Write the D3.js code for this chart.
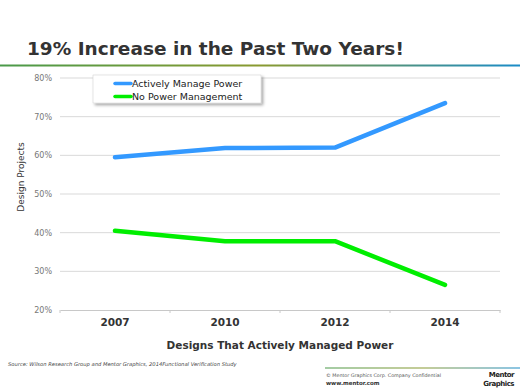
<!DOCTYPE html>
<html>
<head>
<meta charset="utf-8">
<script src="https://cdn.jsdelivr.net/npm/d3@7"></script>
<style>
  body { margin: 0; background: #fff; }
  svg { display: block; font-family: "DejaVu Sans", Verdana, sans-serif; }
</style>
</head>
<body>
<div id="chart"></div>
<script>
// chart values
var years = ["2007", "2010", "2012", "2014"];
var activelyManage = [59.5, 61.9, 62.0, 73.5];
var noManagement = [40.5, 37.8, 37.8, 26.5];
var yTicks = [20, 30, 40, 50, 60, 70, 80];
var seriesNames = ["Actively Manage Power", "No Power Management"];
var seriesColors = ["#3399ff", "#00ee00"];

var W = 520, H = 390;
var margin = {top: 78, right: 20, bottom: 80, left: 60};
var width = W - margin.left - margin.right,
    height = H - margin.top - margin.bottom;

var svg = d3.select("#chart").append("svg")
    .attr("width", W)
    .attr("height", H);

var defs = svg.append("defs");
var grad = defs.append("linearGradient").attr("id", "rule");
grad.append("stop").attr("offset", "0%").attr("stop-color", "#4a9a4a");
grad.append("stop").attr("offset", "50%").attr("stop-color", "#8a9a30");
grad.append("stop").attr("offset", "100%").attr("stop-color", "#1a8cc8");

var shadow = defs.append("filter").attr("id", "shadow")
    .attr("x", "-10%").attr("y", "-20%").attr("width", "130%").attr("height", "160%");
shadow.append("feDropShadow").attr("dx", 2).attr("dy", 2).attr("stdDeviation", 1.5)
    .attr("flood-color", "#000").attr("flood-opacity", 0.35);

// title
svg.append("text")
    .attr("x", 27).attr("y", 55)
    .style("font-size", "18.5px")
    .style("font-weight", "bold")
    .style("fill", "#333")
    .text("19% Increase in the Past Two Years!");

svg.append("rect")
    .attr("x", 0).attr("y", 64.5).attr("width", W).attr("height", 2)
    .style("fill", "url(#rule)");

var g = svg.append("g")
    .attr("transform", "translate(" + margin.left + "," + margin.top + ")");

// scales
var x = d3.scaleBand().domain(years).range([0, width]);
var y = d3.scaleLinear().domain([20, 80]).range([height, 0]);

// grid lines
g.selectAll(".grid")
    .data(yTicks.slice(1))
    .enter().append("line")
    .attr("x1", 0).attr("x2", width)
    .attr("y1", function(d) { return y(d); })
    .attr("y2", function(d) { return y(d); })
    .style("stroke", "#d9d9d9")
    .style("stroke-width", 1);

// y axis
var yAxis = g.append("g")
    .call(d3.axisLeft(y).tickValues(yTicks).tickFormat(function(d) { return d + "%"; }).tickSize(0).tickPadding(8));
yAxis.select(".domain").remove();
yAxis.selectAll("text")
    .style("font-family", "DejaVu Sans, Verdana, sans-serif")
    .style("font-size", "8px")
    .style("fill", "#777");

// x axis
var xAxis = g.append("g")
    .attr("transform", "translate(0," + height + ")")
    .call(d3.axisBottom(x).tickSizeInner(0).tickSizeOuter(0).tickPadding(9));
xAxis.select(".domain").style("stroke", "#c8c8c8");
xAxis.selectAll("text")
    .style("font-family", "DejaVu Sans, Verdana, sans-serif")
    .style("font-size", "10.5px")
    .style("font-weight", "bold")
    .style("fill", "#333");

// category boundary ticks
var bounds = years.map(function(d) { return x(d); }).concat([width]);
g.selectAll(".btick")
    .data(bounds)
    .enter().append("line")
    .attr("x1", function(d) { return d; })
    .attr("x2", function(d) { return d; })
    .attr("y1", height).attr("y2", height + 3)
    .style("stroke", "#c8c8c8");

// lines
var line = d3.line()
    .x(function(d, i) { return x(years[i]) + x.bandwidth() / 2; })
    .y(function(d) { return y(d); });

[activelyManage, noManagement].forEach(function(s, i) {
    g.append("path")
        .attr("d", line(s))
        .style("fill", "none")
        .style("stroke", seriesColors[i])
        .style("stroke-width", 4.5)
        .style("stroke-linecap", "round")
        .style("stroke-linejoin", "round");
});

// axis titles
svg.append("text")
    .attr("transform", "translate(24," + (margin.top + height / 2 - 17) + ") rotate(-90)")
    .style("text-anchor", "middle")
    .style("font-size", "9px")
    .style("fill", "#333")
    .text("Design Projects");

svg.append("text")
    .attr("x", margin.left + width / 2).attr("y", 349)
    .style("text-anchor", "middle")
    .style("font-size", "10.5px")
    .style("font-weight", "bold")
    .style("fill", "#333")
    .text("Designs That Actively Managed Power");

// legend
var legend = svg.append("g").attr("transform", "translate(93,75)");
legend.append("rect")
    .attr("width", 168).attr("height", 28)
    .style("fill", "#fff")
    .style("stroke", "#ccc")
    .style("stroke-width", 0.5)
    .attr("filter", "url(#shadow)");
seriesNames.forEach(function(name, i) {
    var ly = 8.5 + i * 13;
    legend.append("line")
        .attr("x1", 22).attr("x2", 38)
        .attr("y1", ly).attr("y2", ly)
        .style("stroke", seriesColors[i])
        .style("stroke-width", 3.5)
        .style("stroke-linecap", "round");
    legend.append("text")
        .attr("x", 39).attr("y", ly + 3.5)
        .style("font-size", "9.5px")
        .style("fill", "#222")
        .text(name);
});

// footer
svg.append("text")
    .attr("x", 8).attr("y", 366)
    .style("font-size", "5.2px")
    .style("font-style", "italic")
    .style("fill", "#444")
    .text("Source:  Wilson Research Group and Mentor Graphics, 2014Functional Verification Study");

svg.append("rect")
    .attr("x", 325).attr("y", 367.5).attr("width", W - 325).attr("height", 1)
    .style("fill", "url(#rule)");

svg.append("text")
    .attr("x", 326).attr("y", 377)
    .style("font-size", "4.8px")
    .style("fill", "#555")
    .text("© Mentor Graphics Corp.    Company Confidential");

svg.append("text")
    .attr("x", 326).attr("y", 385)
    .style("font-size", "5.5px")
    .style("font-weight", "bold")
    .style("fill", "#333")
    .text("www.mentor.com");

svg.append("text")
    .attr("x", 514).attr("y", 377)
    .style("text-anchor", "end")
    .style("font-size", "7px")
    .style("font-weight", "bold")
    .style("letter-spacing", "-0.5px")
    .style("fill", "#222")
    .text("Mentor");
svg.append("text")
    .attr("x", 514).attr("y", 385.5)
    .style("text-anchor", "end")
    .style("font-size", "7px")
    .style("font-weight", "bold")
    .style("letter-spacing", "-0.5px")
    .style("fill", "#222")
    .text("Graphics");
</script>
</body>
</html>
